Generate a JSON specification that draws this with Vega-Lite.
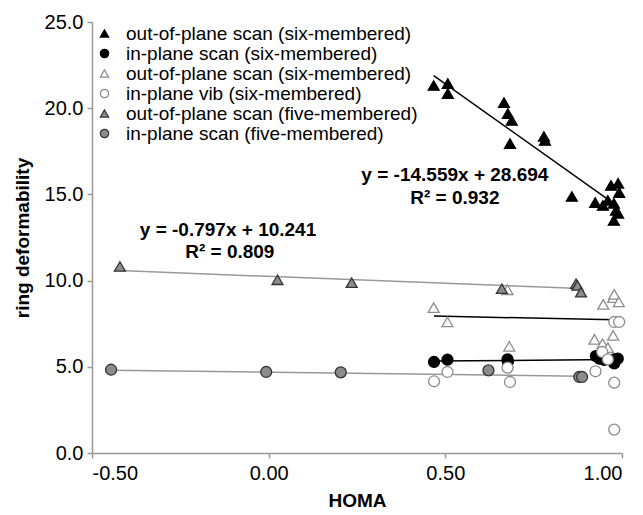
{
  "$schema": "https://vega.github.io/schema/vega-lite/v6.json",
  "width": 530,
  "height": 431,
  "autosize": {"type": "none"},
  "padding": {"left": 92, "top": 22, "right": 21, "bottom": 62},
  "background": "white",
  "config": {
    "view": {"stroke": null},
    "font": "Liberation Sans",
    "axis": {
      "grid": false,
      "domainColor": "#999999",
      "tickColor": "#999999",
      "domainWidth": 1.5,
      "tickWidth": 1.5,
      "tickSize": 5,
      "labelColor": "#000000",
      "labelFontSize": 20,
      "labelFont": "Liberation Sans",
      "titleFont": "Liberation Sans",
      "titleFontSize": 19,
      "titleFontWeight": "bold",
      "titleColor": "#000000"
    }
  },
  "datasets": {
    "points": [
      {"s": "A", "homa": 0.467, "rd": 21.32},
      {"s": "A", "homa": 0.507, "rd": 21.43},
      {"s": "A", "homa": 0.507, "rd": 20.85},
      {"s": "A", "homa": 0.666, "rd": 20.33},
      {"s": "A", "homa": 0.677, "rd": 19.69},
      {"s": "A", "homa": 0.688, "rd": 19.29},
      {"s": "A", "homa": 0.683, "rd": 17.95},
      {"s": "A", "homa": 0.779, "rd": 18.36},
      {"s": "A", "homa": 0.782, "rd": 18.13},
      {"s": "A", "homa": 0.858, "rd": 14.88},
      {"s": "A", "homa": 0.924, "rd": 14.53},
      {"s": "A", "homa": 0.946, "rd": 14.36},
      {"s": "A", "homa": 0.969, "rd": 15.52},
      {"s": "A", "homa": 0.989, "rd": 15.64},
      {"s": "A", "homa": 0.992, "rd": 15.11},
      {"s": "A", "homa": 0.960, "rd": 14.65},
      {"s": "A", "homa": 0.977, "rd": 14.48},
      {"s": "A", "homa": 0.983, "rd": 14.07},
      {"s": "A", "homa": 0.989, "rd": 13.90},
      {"s": "A", "homa": 0.977, "rd": 13.49},
      {"s": "B", "homa": 0.468, "rd": 5.28},
      {"s": "B", "homa": 0.506, "rd": 5.41},
      {"s": "B", "homa": 0.676, "rd": 5.43},
      {"s": "B", "homa": 0.677, "rd": 5.30},
      {"s": "B", "homa": 0.926, "rd": 5.62},
      {"s": "B", "homa": 0.936, "rd": 5.47},
      {"s": "B", "homa": 0.950, "rd": 5.40},
      {"s": "B", "homa": 0.978, "rd": 5.43},
      {"s": "B", "homa": 0.988, "rd": 5.47},
      {"s": "B", "homa": 0.978, "rd": 5.20},
      {"s": "C", "homa": 0.467, "rd": 8.43},
      {"s": "C", "homa": 0.506, "rd": 7.60},
      {"s": "C", "homa": 0.676, "rd": 9.47},
      {"s": "C", "homa": 0.681, "rd": 6.19},
      {"s": "C", "homa": 0.947, "rd": 8.62},
      {"s": "C", "homa": 0.975, "rd": 9.01},
      {"s": "C", "homa": 0.978, "rd": 9.20},
      {"s": "C", "homa": 0.991, "rd": 8.76},
      {"s": "C", "homa": 0.922, "rd": 6.59},
      {"s": "C", "homa": 0.945, "rd": 6.34},
      {"s": "C", "homa": 0.960, "rd": 6.11},
      {"s": "C", "homa": 0.975, "rd": 6.82},
      {"s": "D", "homa": 0.468, "rd": 4.16},
      {"s": "D", "homa": 0.506, "rd": 4.70},
      {"s": "D", "homa": 0.676, "rd": 4.95},
      {"s": "D", "homa": 0.683, "rd": 4.12},
      {"s": "D", "homa": 0.925, "rd": 4.74},
      {"s": "D", "homa": 0.944, "rd": 5.86},
      {"s": "D", "homa": 0.978, "rd": 7.60},
      {"s": "D", "homa": 0.992, "rd": 7.60},
      {"s": "D", "homa": 0.960, "rd": 5.43},
      {"s": "D", "homa": 0.978, "rd": 4.08},
      {"s": "D", "homa": 0.978, "rd": 1.36},
      {"s": "E", "homa": -0.421, "rd": 10.82},
      {"s": "E", "homa": 0.025, "rd": 10.05},
      {"s": "E", "homa": 0.235, "rd": 9.88},
      {"s": "E", "homa": 0.660, "rd": 9.53},
      {"s": "E", "homa": 0.870, "rd": 9.82},
      {"s": "E", "homa": 0.874, "rd": 9.72},
      {"s": "E", "homa": 0.884, "rd": 9.33},
      {"s": "F", "homa": -0.446, "rd": 4.83},
      {"s": "F", "homa": -0.007, "rd": 4.70},
      {"s": "F", "homa": 0.204, "rd": 4.68},
      {"s": "F", "homa": 0.622, "rd": 4.79},
      {"s": "F", "homa": 0.879, "rd": 4.41},
      {"s": "F", "homa": 0.887, "rd": 4.41}
    ],
    "trends": [
      {"trend": "A", "tone": "black", "homa": 0.467, "rd": 21.89},
      {"trend": "A", "tone": "black", "homa": 0.990, "rd": 14.28},
      {"trend": "C", "tone": "black", "homa": 0.468, "rd": 7.94},
      {"trend": "C", "tone": "black", "homa": 0.978, "rd": 7.73},
      {"trend": "B", "tone": "black", "homa": 0.468, "rd": 5.33},
      {"trend": "B", "tone": "black", "homa": 0.980, "rd": 5.43},
      {"trend": "E", "tone": "gray", "homa": -0.421, "rd": 10.58},
      {"trend": "E", "tone": "gray", "homa": 0.884, "rd": 9.54},
      {"trend": "F", "tone": "gray", "homa": -0.446, "rd": 4.80},
      {"trend": "F", "tone": "gray", "homa": 0.884, "rd": 4.45}
    ],
    "notes": [
      {"homa": 0.527, "rd": 16.1, "label": "y = -14.559x  + 28.694"},
      {"homa": 0.527, "rd": 14.78, "label": "R² = 0.932"},
      {"homa": -0.115, "rd": 12.91, "label": "y = -0.797x  + 10.241"},
      {"homa": -0.11, "rd": 11.65, "label": "R² = 0.809"}
    ]
  },
  "encoding": {
    "x": {
      "field": "homa",
      "type": "quantitative",
      "scale": {"domain": [-0.5, 1], "nice": false, "zero": false},
      "axis": {"values": [-0.5, 0, 0.5, 1], "labelExpr": "replace(format(datum.value, '.2f'), '\u2212', '-')", "title": "HOMA", "labelPadding": 5, "titlePadding": 8}
    },
    "y": {
      "field": "rd",
      "type": "quantitative",
      "scale": {"domain": [0, 25], "nice": false},
      "axis": {"values": [0, 5, 10, 15, 20, 25], "format": ".1f", "title": "ring deformability", "labelPadding": 4, "titlePadding": 12}
    }
  },
  "layer": [
    {
      "data": {"name": "trends"},
      "mark": {"type": "line", "strokeWidth": 1.5},
      "encoding": {
        "detail": {"field": "trend", "type": "nominal"},
        "color": {"field": "tone", "type": "nominal", "scale": {"domain": ["black", "gray"], "range": ["#000000", "#999999"]}, "legend": null}
      }
    },
    {
      "data": {"name": "points"},
      "mark": {"type": "point", "opacity": 1, "strokeWidth": 1.3, "size": 120},
      "encoding": {
        "shape": {
          "field": "s", "type": "nominal",
          "scale": {"domain": ["A", "B", "C", "D", "E", "F"], "range": ["triangle-up", "circle", "triangle-up", "circle", "triangle-up", "circle"]},
          "legend": {
            "title": null, "orient": "none", "legendX": 3, "legendY": 2,
            "labelFontSize": 19, "labelFont": "Liberation Sans", "labelColor": "#000000", "labelLimit": 500,
            "symbolSize": 70, "labelOffset": 12, "rowPadding": -2, "symbolStrokeWidth": 1.2,
            "labelExpr": "datum.label == 'A' ? 'out-of-plane scan (six-membered)' : datum.label == 'B' ? 'in-plane scan (six-membered)' : datum.label == 'C' ? 'out-of-plane scan (six-membered)' : datum.label == 'D' ? 'in-plane vib (six-membered)' : datum.label == 'E' ? 'out-of-plane scan (five-membered)' : 'in-plane scan (five-membered)'"
          }
        },
        "fill": {
          "field": "s", "type": "nominal",
          "scale": {"domain": ["A", "B", "C", "D", "E", "F"], "range": ["#000000", "#000000", "#ffffff", "#ffffff", "#8c8c8c", "#8c8c8c"]}
        },
        "stroke": {
          "field": "s", "type": "nominal",
          "scale": {"domain": ["A", "B", "C", "D", "E", "F"], "range": ["#000000", "#000000", "#8c8c8c", "#8c8c8c", "#333333", "#333333"]}
        }
      }
    },
    {
      "data": {"name": "notes"},
      "mark": {"type": "text", "fontWeight": "bold", "fontSize": 19, "font": "Liberation Sans", "color": "#000000"},
      "encoding": {"text": {"field": "label", "type": "nominal"}}
    }
  ]
}
